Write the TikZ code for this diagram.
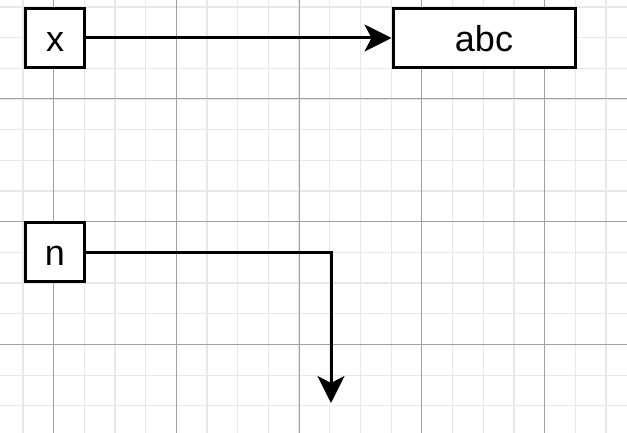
\documentclass[tikz,border=0pt]{standalone}
\usepackage{fontspec}
\setmainfont{Liberation Sans}
\usetikzlibrary{arrows.meta}
\definecolor{minorgrid}{RGB}{232,232,232}
\definecolor{majorgrid}{RGB}{160,160,160}
\tikzset{
  cellbox/.style={draw,line width=3pt,fill=white,minimum height=59pt,inner sep=0pt,
    text height=27pt,text depth=0pt,font=\fontsize{36}{40}\selectfont},
  link/.style={line width=3pt,-{Stealth[length=27pt,width=27pt,inset=7pt]}},
}

\begin{document}
\begin{tikzpicture}[x=1pt,y=-1pt]
  \useasboundingbox (0,0) rectangle (627,433);
  % minor grid
  \foreach \k in {0,...,19} \draw[minorgrid,line width=1.3pt] ({23+30.68*\k},0) -- ({23+30.68*\k},433);
  \foreach \k in {0,...,13} \draw[minorgrid,line width=1.3pt] (0,{7+30.68*\k}) -- (627,{7+30.68*\k});
  % major grid
  \foreach \k in {0,...,4} \draw[majorgrid,line width=1pt] ({53.7+122.7*\k},0) -- ({53.7+122.7*\k},433);
  \foreach \k in {0,...,2} \draw[majorgrid,line width=1pt] (0,{99+122.7*\k}) -- (627,{99+122.7*\k});
  % boxes
  \node[cellbox,minimum width=59pt] (x) at (55,38) {x};
  \node[cellbox,minimum width=182pt] (abc) at (484,38) {abc};
  \node[cellbox,minimum width=59pt] (n) at (55,252) {n};
  \coordinate (nend) at (331,403);
  % arrows
  \draw[link] (x) -- (abc);
  \draw[link] (n) -| (nend);
\end{tikzpicture}
\end{document}
